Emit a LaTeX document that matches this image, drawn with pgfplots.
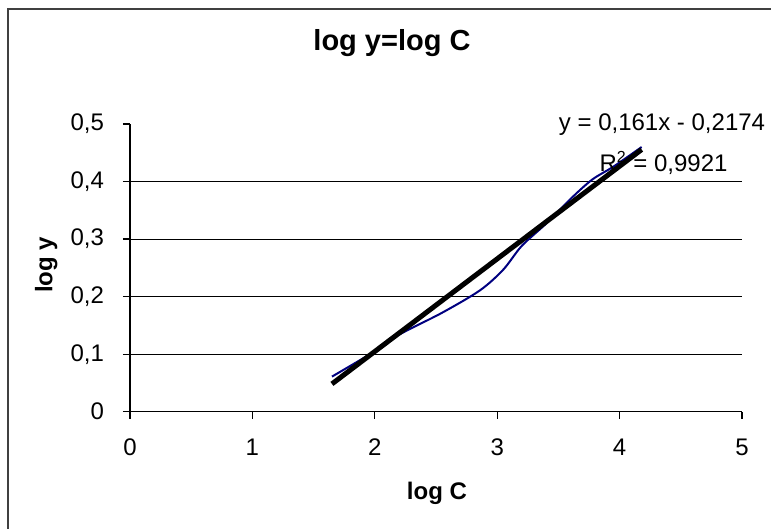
\documentclass[border=0pt]{standalone}
\usepackage{pgfplots}
\pgfplotsset{compat=1.18}
\usepackage{fontspec}
\setmainfont{Liberation Sans}
\definecolor{navyline}{RGB}{0,0,128}
\begin{document}
\begin{tikzpicture}
\useasboundingbox (0pt,0pt) rectangle (385.5pt,264.5pt);
\clip (0pt,0pt) rectangle (385.5pt,264.5pt);
\draw[line width=0.9pt, black!75] (4pt,260pt) rectangle (395pt,-10pt);
\begin{axis}[
  at={(65pt,58.65pt)}, anchor=origin,
  scale only axis, width=306pt, height=143.85pt,
  xmin=0, xmax=5, ymin=0, ymax=0.5,
  axis x line*=bottom, axis y line*=left,
  axis line style={line width=0.6pt, black},
  tick align=outside, major tick length=3.5pt,
  tick style={line width=0.6pt, black},
  xtick={0,1,2,3,4,5},
  xticklabels={0,1,2,3,4,5},
  ytick={0,0.1,0.2,0.3,0.4,0.5},
  yticklabels={0,{0,1},{0,2},{0,3},{0,4},{0,5}},
  extra y ticks={0.1,0.2,0.3,0.4},
  extra y tick labels={},
  extra y tick style={grid=major, major tick length=0pt},
  major grid style={line width=0.5pt, black},
  tick label style={font=\fontsize{12}{14}\selectfont},
  xticklabel style={yshift=-6.5pt},
  yticklabel style={xshift=-6pt},
  xlabel={\textbf{log C}},
  xlabel style={font=\fontsize{12}{14}\selectfont, at={(axis description cs:0.5016,-0.2826)}, anchor=center},
  ylabel={\textbf{log y}},
  ylabel style={font=\fontsize{12}{14}\selectfont, at={(axis description cs:-0.137,0.51)}, anchor=center},
  clip=false,
]
\addplot[navyline, line width=1pt, smooth, tension=0.5] coordinates {
(1.65,0.061) (2.0,0.105) (2.2,0.134) (2.55,0.172) (2.86,0.211) (3.05,0.247)
(3.2,0.288) (3.4,0.327) (3.62,0.374) (3.78,0.404) (3.95,0.426) (4.18,0.460)
};
\addplot[black, line width=2.5pt] coordinates {(1.65,0.0483) (4.18,0.4556)};
\end{axis}
\node[font=\fontsize{14.5}{16}\selectfont\bfseries] at (196pt,243pt) {log y=log C};
\node[font=\fontsize{12}{14}\selectfont] at (331pt,202pt) {y = 0,161x - 0,2174};
\node[font=\fontsize{12}{14}\selectfont] at (331.75pt,183pt) {R\textsuperscript{2} = 0,9921};
\end{tikzpicture}
\end{document}
